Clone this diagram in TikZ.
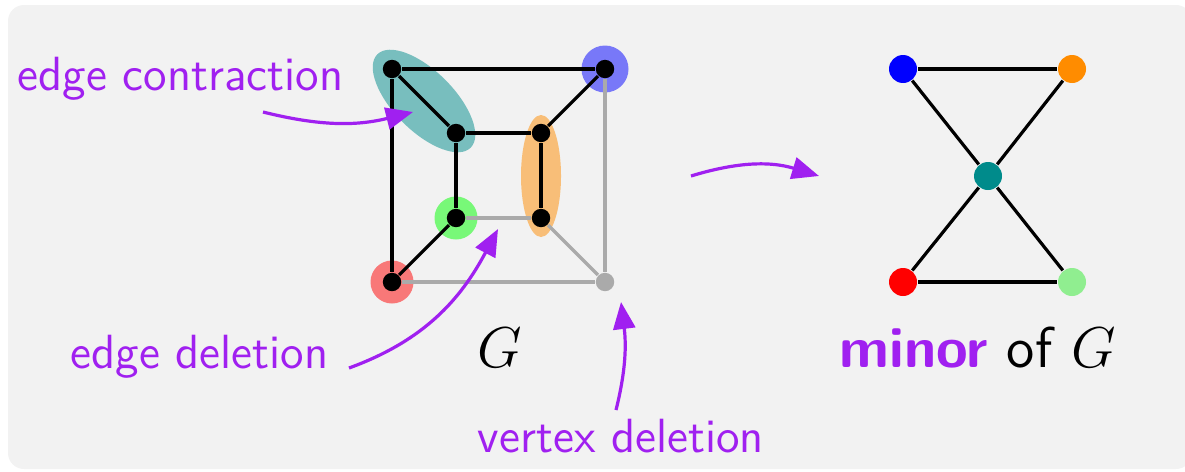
\documentclass[tikz,border=0pt]{standalone}
\usetikzlibrary{shapes.geometric,arrows.meta}
\definecolor{bggray}{HTML}{F2F2F2}
\definecolor{edgegray}{HTML}{AAAAAA}
\definecolor{lblpurple}{HTML}{A020F0}
\definecolor{dorange}{HTML}{FF8C00}
\definecolor{dteal}{HTML}{008B8B}
\definecolor{lgreen}{HTML}{90EE90}
\begin{document}
\begin{tikzpicture}[x=0.25pt,y=0.25pt,
  dot/.style={circle,fill=black,inner sep=0pt,minimum size=4.6pt},
  halo/.style={circle,inner sep=0pt,fill opacity=0.5},
  blob/.style={ellipse,inner sep=0pt,fill opacity=0.5},
  bk/.style={line width=0.8pt,black},
  gr/.style={line width=0.8pt,edgegray},
  mv/.style={circle,inner sep=0pt,minimum size=7pt},
  note/.style={text=lblpurple,font=\sffamily\fontsize{12}{14}\selectfont,anchor=base west,inner sep=0pt},
  big/.style={font=\sffamily\fontsize{14.4}{17}\selectfont,anchor=base west,inner sep=0pt},
  pointer/.style={lblpurple,line width=0.8pt,-{Triangle[length=6.75pt,width=5.5pt]}},
]
\useasboundingbox (0,0) rectangle (1185,-471);
\clip (0,0) rectangle (1185,-471);
\fill[bggray,rounded corners=4pt] (8,-5) rectangle (1192,-469);

% highlights
\node[halo,fill=blue,minimum size=11.75pt] (hB) at (605,-69) {};
\node[halo,fill=red,minimum size=10.75pt] (hH) at (392,-282) {};
\node[halo,fill=green,minimum size=10.75pt] (hE) at (456,-218) {};
\node[blob,fill=dteal,minimum width=33pt,minimum height=15pt,rotate=-45] (cAC) at (424,-101) {};
\node[blob,fill=dorange,minimum width=10pt,minimum height=30.5pt] (cDF) at (541,-176) {};

% graph G
\node[dot] (A) at (392,-69) {};
\node[dot] (B) at (605,-69) {};
\node[dot] (C) at (456,-133) {};
\node[dot] (D) at (541,-133) {};
\node[dot] (E) at (456,-218) {};
\node[dot] (F) at (541,-218) {};
\node[dot] (H) at (392,-282) {};
\node[dot,fill=edgegray] (I) at (605,-282) {};

\draw[gr] (B) -- (I);
\draw[gr] (E) -- (F);
\draw[gr] (F) -- (I);
\draw[gr] (H) -- (I);
\draw[bk] (A) -- (B);
\draw[bk] (A) -- (C);
\draw[bk] (A) -- (H);
\draw[bk] (B) -- (D);
\draw[bk] (C) -- (D);
\draw[bk] (C) -- (E);
\draw[bk] (D) -- (F);
\draw[bk] (E) -- (H);

% minor
\node[mv,fill=blue] (rb) at (903,-69) {};
\node[mv,fill=dorange] (ro) at (1072,-69) {};
\node[mv,fill=dteal] (rt) at (988,-176) {};
\node[mv,fill=red] (rr) at (903,-282) {};
\node[mv,fill=lgreen] (rg) at (1072,-282) {};
\draw[bk] (rb) -- (ro);
\draw[bk] (rb) -- (rt);
\draw[bk] (ro) -- (rt);
\draw[bk] (rt) -- (rr);
\draw[bk] (rt) -- (rg);
\draw[bk] (rr) -- (rg);

% labels
\node[note] (t1) at (17,-90) {edge contraction};
\node[note] (t2) at (70,-368) {edge deletion};
\node[note] (t3) at (477,-452) {vertex deletion};
\node[big] (gl) at (477,-367) {$G$};
\node[big] (ml) at (839,-367) {\textcolor{lblpurple}{\bfseries minor} of $G$};

% arrows
\coordinate (p1s) at (263,-112);
\coordinate (p1e) at (413,-112);
\coordinate (p2s) at (349,-368);
\coordinate (p2e) at (498,-229);
\coordinate (p3s) at (616,-410);
\coordinate (p3e) at (621,-302);
\coordinate (p4s) at (691,-176);
\coordinate (p4e) at (819,-176);
\draw[pointer] (p1s) to[out=-14,in=194] (p1e);
\draw[pointer] (p2s) to[out=20,in=242] (p2e);
\draw[pointer] (p3s) to[out=76,in=-83] (p3e);
\draw[pointer] (p4s) to[out=17,in=163] (p4e);
\end{tikzpicture}
\end{document}
